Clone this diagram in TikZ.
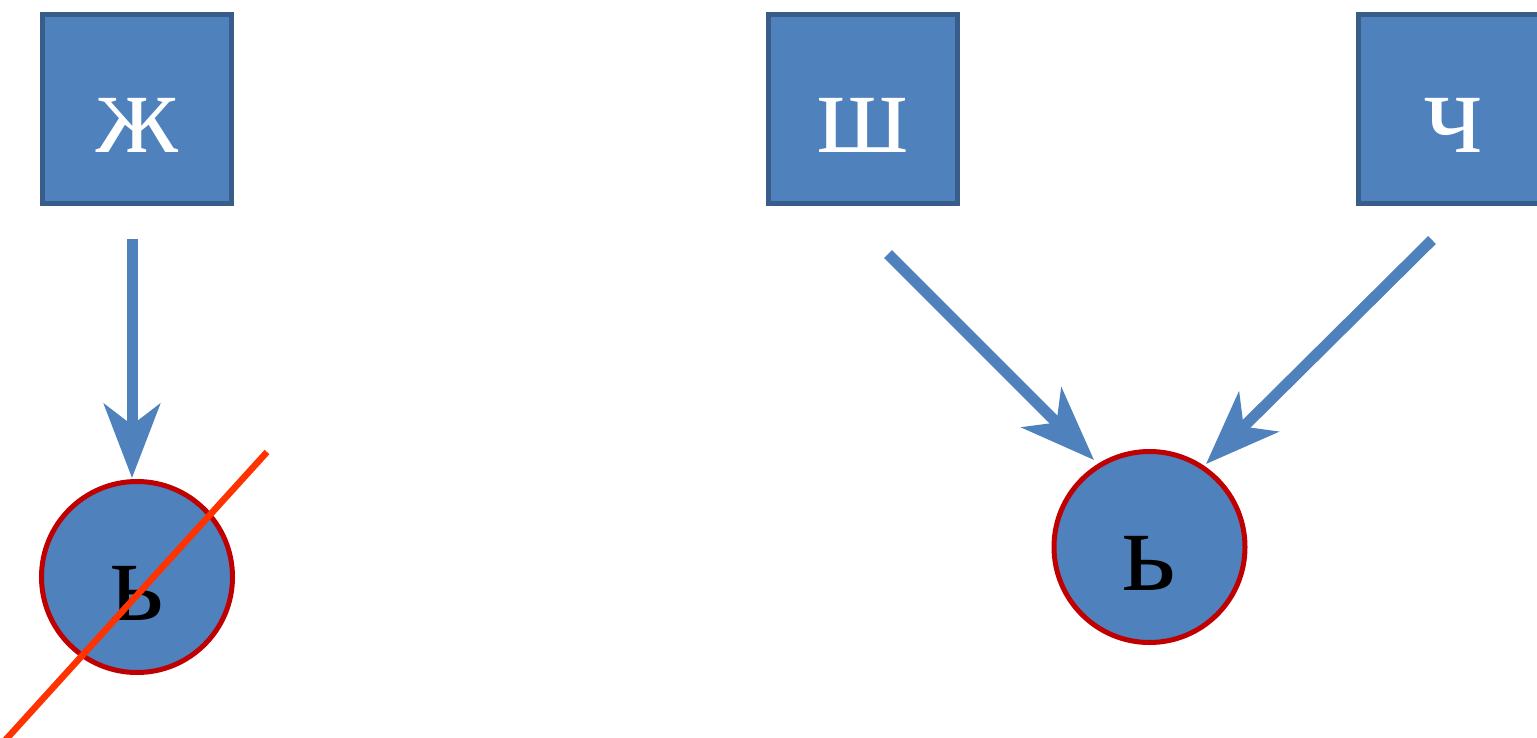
\documentclass[tikz,border=0pt]{standalone}
\usepackage{fontspec}
\setmainfont{Liberation Serif}
\usetikzlibrary{arrows.meta}
\definecolor{fillblue}{HTML}{4F81BD}
\definecolor{boxedge}{HTML}{385D8A}
\definecolor{circedge}{HTML}{C00000}
\definecolor{strike}{HTML}{FF3300}
\begin{document}
\begin{tikzpicture}[x=1pt,y=-1pt,
  letterbox/.style={draw=boxedge,line width=5.5pt,fill=fillblue,minimum size=189pt,inner sep=0pt,
    text=white,font=\fontsize{118}{118}\selectfont,text height=86pt,text depth=0pt},
  softsign/.style={circle,draw=circedge,line width=5pt,fill=fillblue,minimum size=191pt,inner sep=0pt,
    text=black,font=\fontsize{118}{118}\selectfont,text height=86pt,text depth=0pt},
  bluearrow/.style={draw=fillblue,line width=11pt,
    -{Stealth[length=74pt,width=56pt,inset=21pt]}},
  strikeline/.style={draw=strike,line width=6.5pt}]
\useasboundingbox (0,0) rectangle (1537,737);
\node[letterbox] (zh) at (137,109) {ж};
\node[letterbox] (sh) at (863,109) {ш};
\node[letterbox] (ch) at (1453,109) {ч};
\node[softsign] (s1) at (137,577) {ь};
\node[softsign] (s2) at (1149.5,547) {ь};
\coordinate (a2s) at (888,254);
\coordinate (a2e) at (1094,460);
\coordinate (a3s) at (1432,240);
\coordinate (a3e) at (1206,464);
\draw[bluearrow,shorten <=33pt] ([xshift=-5pt]zh.south) -- ([xshift=-5pt,yshift=1pt]s1.north);
\draw[bluearrow] (a2s) -- (a2e);
\draw[bluearrow] (a3s) -- (a3e);
\coordinate (r1) at (267,452);
\coordinate (r2) at (0,746);
\draw[strikeline] (r1) -- (r2);
\end{tikzpicture}
\end{document}
